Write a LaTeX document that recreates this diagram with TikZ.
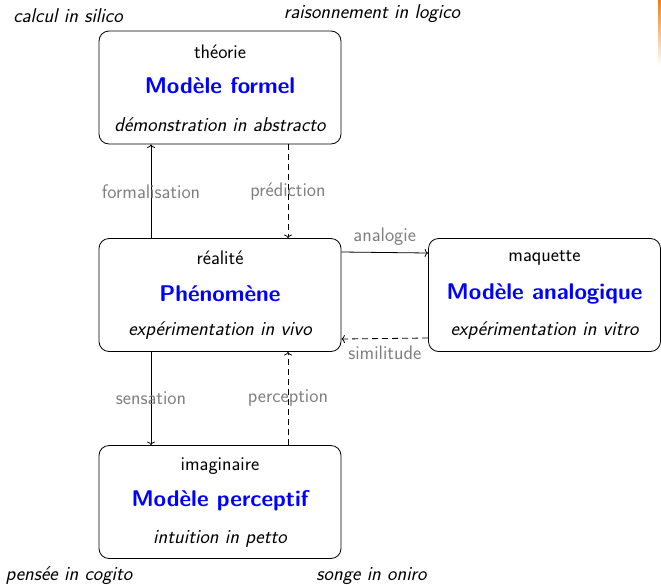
\documentclass[tikz,border=0pt]{standalone}
\usetikzlibrary{arrows.meta}
\begin{document}
\begin{tikzpicture}[x=1pt,y=-1pt,
  font=\sffamily\fontsize{19.6}{23}\selectfont,
  modelbox/.style={draw, rounded corners=10pt, line width=0.8pt,
    minimum width=242pt, minimum height=113pt, inner sep=0pt},
  kind/.style={inner sep=0pt},
  title/.style={inner sep=0pt, text=blue,
    font=\sffamily\bfseries\fontsize{22.7}{27}\selectfont},
  mode/.style={inner sep=0pt, font=\sffamily\itshape\fontsize{20}{24}\selectfont},
  link/.style={line width=0.8pt, -{To[length=3.5pt,width=8pt]}},
  hint/.style={dash pattern=on 6pt off 4pt},
  tag/.style={text=gray, inner sep=2pt}]
\useasboundingbox (0,0) rectangle (661,584);

% edge strip
\shade[top color=orange!75!brown, bottom color=white, draw=none]
  (658,0) rectangle (661,65);

% the four models
\node[modelbox] (formel) at (220,87.5) {};
\node[modelbox] (phen) at (220,295) {};
\node[modelbox, minimum width=232pt] (analog) at (544.5,295) {};
\node[modelbox] (percep) at (220,502) {};

\node[kind]  (k1) at ([yshift=36pt]formel.center) {théorie};
\node[title] (t1) at ([yshift=1.5pt]formel.center) {Modèle formel};
\node[mode]  (m1) at ([yshift=-37pt]formel.center) {démonstration in abstracto};

\node[kind]  (k2) at ([yshift=37pt]phen.center) {réalité};
\node[title] (t2) at ([yshift=1.5pt]phen.center) {Phénomène};
\node[mode]  (m2) at ([yshift=-36pt]phen.center) {expérimentation in vivo};

\node[kind]  (k3) at ([yshift=37pt]analog.center) {maquette};
\node[title] (t3) at ([yshift=1.5pt]analog.center) {Modèle analogique};
\node[mode]  (m3) at ([yshift=-36pt]analog.center) {expérimentation in vitro};

\node[kind]  (k4) at ([yshift=36pt]percep.center) {imaginaire};
\node[title] (t4) at ([yshift=1.5pt]percep.center) {Modèle perceptif};
\node[mode]  (m4) at ([yshift=-37pt]percep.center) {intuition in petto};

% corner captions
\node[mode] (c1) at (68,16)  {calcul in silico};
\node[mode] (c2) at (372,14) {raisonnement in logico};
\node[mode] (c3) at (69,576) {pensée in cogito};
\node[mode] (c4) at (371.5,576) {songe in oniro};

% connectors
\draw[link] ([xshift=-69pt]phen.north) -- ([xshift=-69pt]formel.south)
  node[tag, midway] (l1) {formalisation};
\draw[link, hint] ([xshift=68pt]formel.south) -- ([xshift=68pt]phen.north)
  node[tag, midway] (l2) {prédiction};
\draw[link] ([yshift=43pt]phen.east) -- ([yshift=42pt]analog.west)
  node[tag, midway, above=5pt] (l3) {analogie};
\draw[link, hint] ([yshift=-43pt]analog.west) -- ([yshift=-44pt]phen.east)
  node[tag, midway, below=5pt] (l4) {similitude};
\draw[link] ([xshift=-69pt]phen.south) -- ([xshift=-69pt]percep.north)
  node[tag, midway] (l5) {sensation};
\draw[link, hint] ([xshift=68pt]percep.north) -- ([xshift=68pt]phen.south)
  node[tag, midway] (l6) {perception};
\end{tikzpicture}
\end{document}
